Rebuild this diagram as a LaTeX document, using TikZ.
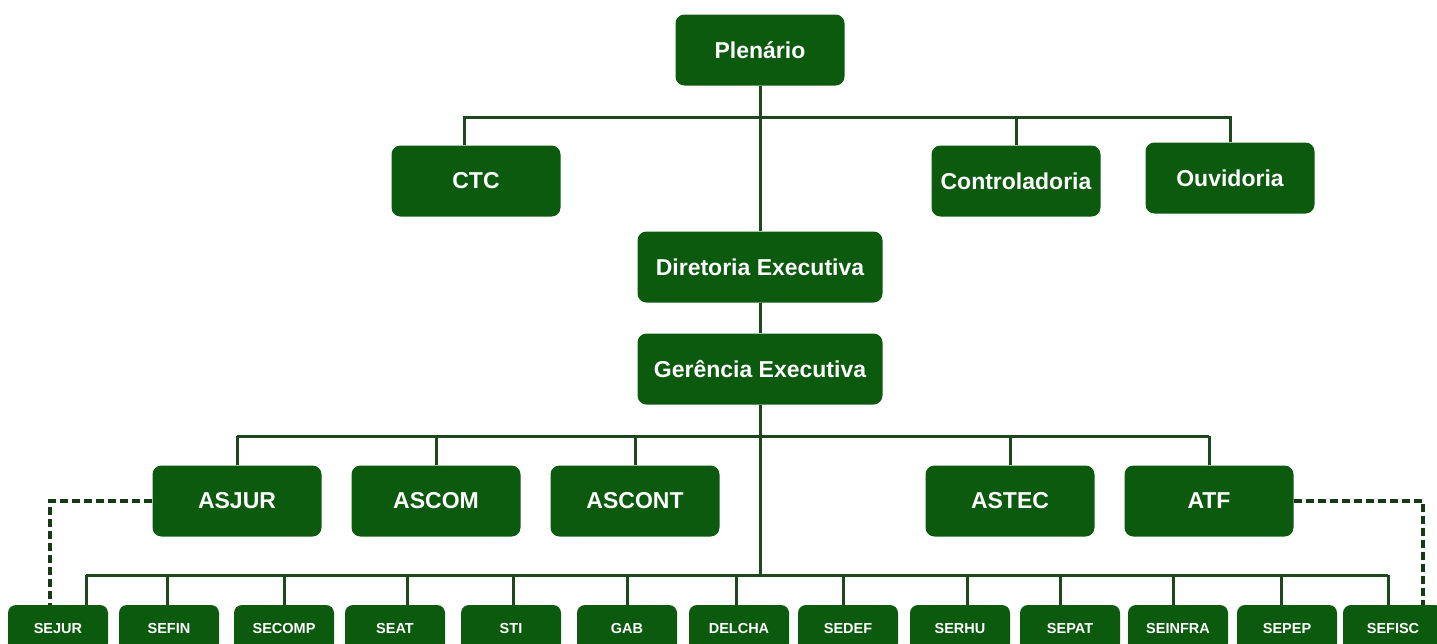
\documentclass[tikz,border=0pt]{standalone}
\usepackage{fontspec}
\setmainfont{Liberation Sans}
\definecolor{orggreen}{RGB}{11,90,14}
\definecolor{linegreen}{RGB}{28,72,28}

\begin{document}
\begin{tikzpicture}[x=1pt,y=-1pt,
  unit/.style={fill=orggreen,rounded corners=9pt,text=white,inner sep=0pt,
    font=\bfseries\fontsize{23}{23}\selectfont,minimum width=169pt,minimum height=71pt},
  wideunit/.style={unit,minimum width=245pt},
  sector/.style={unit,minimum width=100pt,minimum height=46pt,rounded corners=8pt,
    font=\bfseries\fontsize{14.5}{14.5}\selectfont},
  link/.style={draw=linegreen,line width=3pt},
  dotlink/.style={draw=linegreen!80!black,line width=3.4pt,dash pattern=on 8pt off 4pt}]
\useasboundingbox[fill=white] (0,0) rectangle (1437,643);
\clip (0,0) rectangle (1437,643);
% buses
\coordinate (busA) at (760,117);
\coordinate (busB) at (760,436);
\coordinate (busC) at (760,575);
% top levels
\node[unit] (plenario) at (760,50) {Plenário};
\node[unit] (ctc) at (476,181) {CTC};
\node[unit] (contr) at (1016,181) {Controladoria};
\node[unit] (ouvid) at (1230,178) {Ouvidoria};
\node[wideunit] (diret) at (760,267) {Diretoria Executiva};
\node[wideunit] (geren) at (760,369) {Gerência Executiva};
\draw[link] (plenario) -- (diret);
\draw[link] (diret) -- (geren);
\draw[link] (geren) -- (busC);
\draw[link] ([xshift=-12pt]ctc.north) |- (busA) -| (ouvid.north);
\draw[link] (contr.north) -- (contr.north |- busA);
% assessorias
\foreach \n/\x/\t in {asjur/237/ASJUR,ascom/436/ASCOM,ascont/635/ASCONT,astec/1010/ASTEC,atf/1209/ATF}{
  \node[unit] (\n) at (\x,501) {\t};
  \draw[link] (\n.north) -- (\n.north |- busB);}
\draw[link] (asjur.north |- busB) -- (atf.north |- busB);
% setores
\foreach \n/\x/\d/\t in {sejur/58/28/SEJUR,sefin/169/-2/SEFIN,secomp/284/0/SECOMP,
    seat/395/12/SEAT,sti/511/2/STI,gab/627/0/GAB,delcha/739/-3/DELCHA,sedef/848/-5/SEDEF,
    serhu/960/7/SERHU,sepat/1070/-10/SEPAT,seinfra/1178/-5/SEINFRA,sepep/1287/-6/SEPEP,
    sefisc/1393/-5/SEFISC}{
  \node[sector] (\n) at (\x,628) {\t};
  \draw[link] ([xshift=\d pt]\n.north) -- ([xshift=\d pt]\n.north |- busC);}
\draw[link] ([xshift=28pt]sejur.north |- busC) -- ([xshift=-5pt]sefisc.north |- busC);
\draw[dotlink] (asjur.west) -| ([xshift=-8pt]sejur.north);
\draw[dotlink] (atf.east) -| ([xshift=30pt]sefisc.north);
\end{tikzpicture}
\end{document}
